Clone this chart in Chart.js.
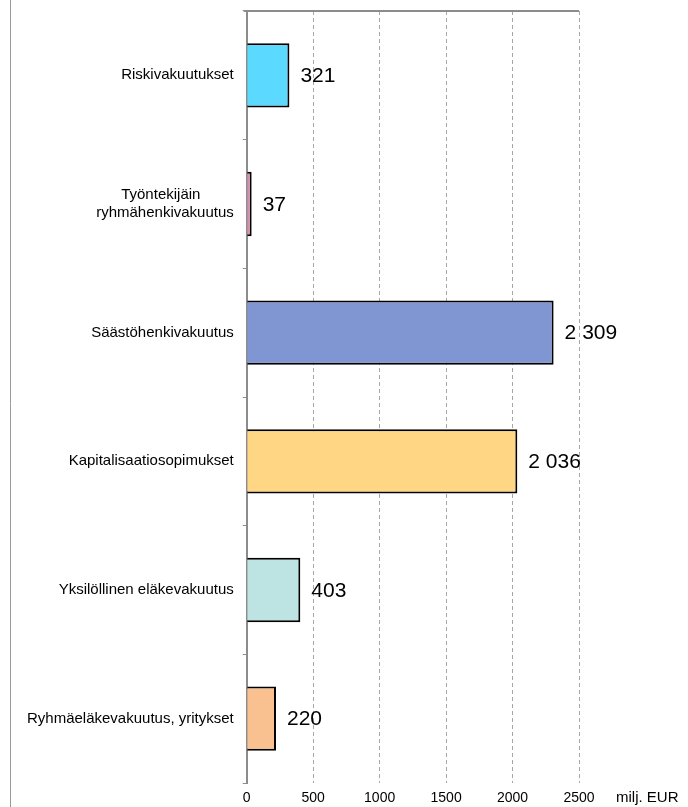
<!DOCTYPE html>
<html>
<head>
<meta charset="utf-8">
<script src="https://cdn.jsdelivr.net/npm/chart.js@4"></script>
<style>
  html, body { margin: 0; padding: 0; background: #fff; }
  #wrap { position: relative; width: 688px; height: 807px; }
</style>
</head>
<body>
<div id="wrap"><canvas id="chart" width="688" height="807"></canvas></div>
<script>
// categories (top to bottom) and values, milj. EUR
const categories = [
  'Riskivakuutukset',
  ['Työntekijäin\u00a0\u00a0\u00a0\u00a0\u00a0\u00a0\u00a0\u00a0', 'ryhmähenkivakuutus'],
  'Säästöhenkivakuutus',
  'Kapitalisaatiosopimukset',
  'Yksilöllinen eläkevakuutus',
  'Ryhmäeläkevakuutus, yritykset'
];
const values     = [321, 37, 2309, 2036, 403, 220];
const barColors  = ['#5bd9ff', '#d98fad', '#7f96d2', '#ffd684', '#bde3e3', '#f9c18f'];
const xTicks     = [0, 500, 1000, 1500, 2000, 2500];
const unitLabel  = 'milj. EUR';

const FONT = 'Arial, "Liberation Sans", sans-serif';

// "2309" -> "2 309"
const fmt = v => String(v).replace(/\B(?=(\d{3})+(?!\d))/g, ' ');

// value labels next to the bars, frame lines and unit text
const decorations = {
  id: 'decorations',
  afterDatasetsDraw(chart) {
    const { ctx, chartArea, scales } = chart;
    const meta = chart.getDatasetMeta(0);
    ctx.save();
    ctx.fillStyle = '#000';
    ctx.font = '21px ' + FONT;
    ctx.textAlign = 'left';
    ctx.textBaseline = 'middle';
    meta.data.forEach((bar, i) => {
      ctx.fillText(fmt(values[i]), bar.x + 11, bar.y + 1);
    });

    // top frame line over the value range
    ctx.strokeStyle = '#8c8c8c';
    ctx.lineWidth = 2;
    ctx.beginPath();
    ctx.moveTo(scales.x.getPixelForValue(0) - 3, chartArea.top);
    ctx.lineTo(scales.x.getPixelForValue(2500), chartArea.top);
    ctx.stroke();

    // thin left border of the figure
    ctx.strokeStyle = '#9a9a9a';
    ctx.lineWidth = 1;
    ctx.beginPath();
    ctx.moveTo(10.5, 0);
    ctx.lineTo(10.5, chart.height);
    ctx.stroke();

    // unit next to the x tick labels
    ctx.font = '15px ' + FONT;
    ctx.textBaseline = 'middle';
    ctx.fillText(unitLabel, 616, 798);
    ctx.restore();
  }
};

new Chart(document.getElementById('chart'), {
  type: 'bar',
  data: {
    labels: categories,
    datasets: [{
      data: values,
      backgroundColor: barColors,
      borderColor: '#000',
      borderWidth: 2,
      borderSkipped: 'start',
      categoryPercentage: 1,
      barPercentage: 0.5,
    }],
  },
  options: {
    indexAxis: 'y',
    responsive: false,
    animation: false,
    layout: { padding: { top: 11, right: 109, bottom: 0, left: 18 } },
    plugins: {
      legend: { display: false },
      tooltip: { enabled: false },
    },
    scales: {
      x: {
        min: 0,
        max: 2500,
        afterBuildTicks: axis => { axis.ticks = xTicks.map(v => ({ value: v })); },
        afterFit: axis => { axis.height = 24; },
        ticks: { color: '#000', font: { size: 14, family: FONT }, padding: 7, maxRotation: 0, callback: v => String(v) },
        grid: { color: '#a6a6a6', lineWidth: 1, drawTicks: false },
        border: { display: false, dash: [4, 3] },
      },
      y: {
        afterFit: axis => { axis.paddingTop = 0; axis.paddingBottom = 0; },
        ticks: { color: '#000', font: { size: 15, family: FONT }, padding: 9 },
        grid: { offset: true, drawOnChartArea: false, drawTicks: true, tickLength: 4, color: '#8c8c8c', lineWidth: 1 },
        border: { display: true, color: '#8c8c8c', width: 2 },
      },
    },
  },
  plugins: [decorations],
});
</script>
</body>
</html>
